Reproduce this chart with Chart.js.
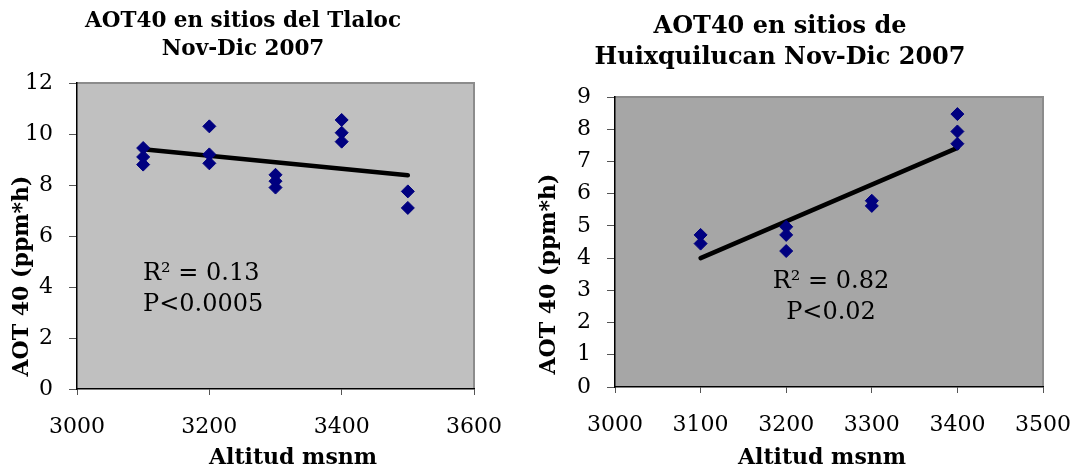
<!DOCTYPE html>
<html>
<head>
<meta charset="utf-8">
<script src="https://cdn.jsdelivr.net/npm/chart.js@4.4.1/dist/chart.umd.min.js"></script>
<style>
  html, body { margin: 0; padding: 0; background: #fff; }
  body { width: 1078px; height: 474px; position: relative; overflow: hidden; }
  .box { position: absolute; top: 0; height: 474px; }
  #boxL { left: 0; width: 530px; }
  #boxR { left: 530px; width: 548px; }
</style>
</head>
<body>
<div class="box" id="boxL"><canvas id="chart-tlaloc"></canvas></div>
<div class="box" id="boxR"><canvas id="chart-huix"></canvas></div>
<script>
// Tlaloc sites, Nov-Dic 2007
const tlalocAlt = [3100, 3100, 3100, 3200, 3200, 3200, 3300, 3300, 3300, 3400, 3400, 3400, 3500, 3500]
const tlalocAot = [9.45, 9.1, 8.8, 10.3, 9.2, 8.85, 8.4, 8.15, 7.9, 10.55, 10.05, 9.7, 7.75, 7.1]
const tlalocTrendAlt = [3100, 3500]
const tlalocTrendAot = [9.4, 8.38]
const tlalocXTicks = [3000, 3600, 200]   // min, max, step
const tlalocYTicks = [0, 12, 2]

// Huixquilucan sites, Nov-Dic 2007
const huixAlt = [3100, 3100, 3200, 3200, 3200, 3300, 3300, 3400, 3400, 3400]
const huixAot = [4.72, 4.45, 4.97, 4.72, 4.22, 5.78, 5.62, 8.47, 7.93, 7.55]
const huixTrendAlt = [3100, 3400]
const huixTrendAot = [4.0, 7.42]
const huixXTicks = [3000, 3500, 100]
const huixYTicks = [0, 9, 1]

const SERIF = '"DejaVu Serif", "Liberation Serif", serif'

const toXY = (xs, ys) => xs.map((x, i) => ({ x, y: ys[i] }))

// grey plot area with a thin frame on top and right (axes are drawn by the scales)
const plotBg = {
  id: 'plotBg',
  beforeDraw(chart, args, opts) {
    const { ctx, chartArea: a } = chart
    ctx.save()
    ctx.fillStyle = opts.color
    ctx.fillRect(a.left, a.top, a.right - a.left, a.bottom - a.top)
    ctx.strokeStyle = '#8c8c8c'
    ctx.lineWidth = 2
    ctx.beginPath()
    ctx.moveTo(a.left, a.top)
    ctx.lineTo(a.right, a.top)
    ctx.lineTo(a.right, a.bottom)
    ctx.stroke()
    ctx.restore()
  }
}

// titles, axis titles and regression notes
const captions = {
  id: 'captions',
  afterDraw(chart, args, opts) {
    const { ctx } = chart
    opts.items.forEach(it => {
      ctx.save()
      ctx.fillStyle = '#000'
      ctx.font = it.font
      ctx.textAlign = it.align || 'center'
      ctx.textBaseline = 'middle'
      ctx.translate(it.x, it.y)
      if (it.rotate) ctx.rotate(it.rotate)
      ctx.fillText(it.text, 0, 0)
      ctx.restore()
    })
  }
}

function makeChart(id, cfg) {
  const [xMin, xMax, xStep] = cfg.xTicks
  const [yMin, yMax, yStep] = cfg.yTicks
  const tickFont = { family: SERIF, size: 22 }
  return new Chart(document.getElementById(id), {
    type: 'scatter',
    data: {
      datasets: [
        {
          data: toXY(cfg.alt, cfg.aot),
          pointStyle: 'rectRot',
          pointRadius: 6.5,
          pointHoverRadius: 6.5,
          backgroundColor: '#000080',
          borderColor: '#000080',
          borderWidth: 1,
        },
        {
          type: 'line',
          data: toXY(cfg.trendAlt, cfg.trendAot),
          borderColor: '#000',
          borderWidth: 4.5,
          borderCapStyle: 'round',
          pointRadius: 0,
          fill: false,
        }
      ]
    },
    options: {
      responsive: false,
      animation: false,
      events: [],
      layout: { padding: cfg.padding },
      plugins: {
        legend: { display: false },
        tooltip: { enabled: false },
        plotBg: { color: cfg.bg },
        captions: { items: cfg.captions },
      },
      scales: {
        x: {
          type: 'linear', min: xMin, max: xMax,
          // fixed band height; edge labels may overhang into the layout padding
          afterFit: s => { s.height = cfg.xHeight; s.paddingLeft = 0; s.paddingRight = 0 },
          ticks: { stepSize: xStep, color: '#000', font: tickFont, padding: 19, callback: v => String(v) },
          grid: { drawOnChartArea: false, tickLength: 6, color: '#555' },
          border: { color: '#000', width: 1.5 },
        },
        y: {
          type: 'linear', min: yMin, max: yMax,
          afterFit: s => { s.width = cfg.yWidth },
          ticks: { stepSize: yStep, color: '#000', font: tickFont, padding: 16 },
          grid: { drawOnChartArea: false, tickLength: 8, color: '#555' },
          border: { color: '#000', width: 1.5 },
        }
      }
    },
    plugins: [plotBg, captions]
  })
}

const cL = document.getElementById('chart-tlaloc')
cL.width = 530; cL.height = 474
const cR = document.getElementById('chart-huix')
cR.width = 548; cR.height = 474

const axisFont = `bold 22px ${SERIF}`
const noteFont = `24px ${SERIF}`

makeChart('chart-tlaloc', {
  alt: tlalocAlt, aot: tlalocAot,
  trendAlt: tlalocTrendAlt, trendAot: tlalocTrendAot,
  xTicks: tlalocXTicks, yTicks: tlalocYTicks,
  bg: '#c0c0c0',
  padding: { left: 0, top: 83, right: 56, bottom: 0 },
  yWidth: 77, xHeight: 85,
  captions: [
    { text: 'AOT40 en sitios del Tlaloc', x: 243, y: 21, font: `bold 21.5px ${SERIF}` },
    { text: 'Nov-Dic 2007', x: 243, y: 49, font: `bold 21.5px ${SERIF}` },
    { text: 'AOT 40 (ppm*h)', x: 22, y: 276, rotate: -Math.PI / 2, font: axisFont },
    { text: 'Altitud msnm', x: 293, y: 458, font: axisFont },
    { text: 'R² = 0.13', x: 143, y: 274, align: 'left', font: noteFont },
    { text: 'P<0.0005', x: 143, y: 305, align: 'left', font: noteFont },
  ]
})

makeChart('chart-huix', {
  alt: huixAlt, aot: huixAot,
  trendAlt: huixTrendAlt, trendAot: huixTrendAot,
  xTicks: huixXTicks, yTicks: huixYTicks,
  bg: '#a6a6a6',
  padding: { left: 0, top: 97, right: 35, bottom: 0 },
  yWidth: 85, xHeight: 87,
  captions: [
    { text: 'AOT40 en sitios de', x: 250, y: 27, font: `bold 24px ${SERIF}` },
    { text: 'Huixquilucan Nov-Dic 2007', x: 250, y: 58, font: `bold 24px ${SERIF}` },
    { text: 'AOT 40 (ppm*h)', x: 19, y: 274, rotate: -Math.PI / 2, font: axisFont },
    { text: 'Altitud msnm', x: 292, y: 458, font: axisFont },
    { text: 'R² = 0.82', x: 301, y: 282, font: noteFont },
    { text: 'P<0.02', x: 301, y: 313, font: noteFont },
  ]
})
</script>
</body>
</html>
